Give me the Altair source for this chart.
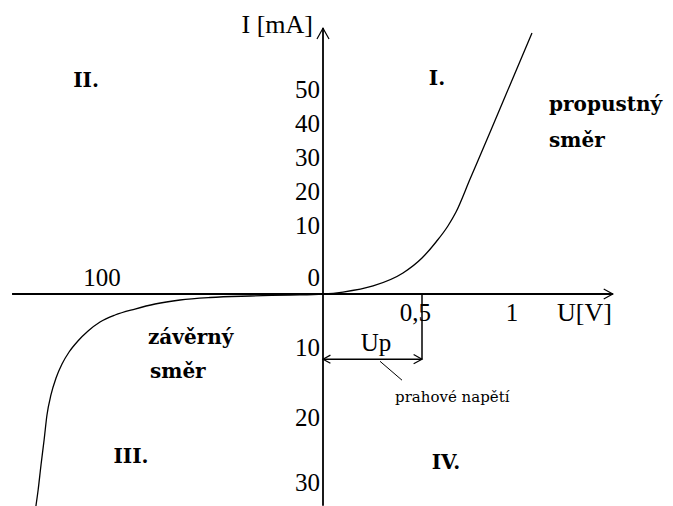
import altair as alt
import pandas as pd

# Diode V-A characteristic: forward branch (U in V, I in mA)
fwd_u = [0, 0.101, 0.253, 0.404, 0.50, 0.578, 0.644, 0.689, 0.767, 0.878, 0.989, 1.111]
fwd_i = [0, 0.29, 1.18, 3.09, 5.29, 7.65, 10.0, 14.1, 23.8, 37.6, 51.5, 66.8]

# reverse branch (U in V, reverse current)
rev_u = [0, -14.9, -33.0, -51.1, -64.7, -76.0, -85.1, -94.1, -100.9, -106.3,
         -110.9, -114.9, -118.1, -120.8, -123.1, -124.9, -126.2, -127.6,
         -128.9, -129.9]
rev_i = [0, -0.19, -0.37, -0.65, -1.11, -1.85, -2.78, -3.89, -5.19, -6.85,
         -8.70, -10.57, -12.29, -14.29, -16.71, -19.57, -23.38, -27.23,
         -31.08, -33.54]

# axis extents
u_min, u_max = -140.7, 1.56
i_min, i_max = -33.5, 68.2

# threshold voltage
u_p = 0.5
i_p = -11.6

# tick labels
i_ticks_up = [10, 20, 30, 40, 50]
i_ticks_down = [-10, -20, -30]
u_ticks = [-100, 0.5, 1]
u_tick_text = ["100", "0,5", "1"]

# piecewise scales (different units on each half-axis)
U_DOMAIN = [-100, 0, 0.5, 1]
U_RANGE = [102, 323, 422, 512]
I_DOMAIN = [-30, -20, -10, 0, 10, 50]
I_RANGE = [483, 418, 348, 294, 226, 90]

xs = alt.Scale(domain=U_DOMAIN, range=U_RANGE, nice=False, zero=False)
ys = alt.Scale(domain=I_DOMAIN, range=I_RANGE, nice=False, zero=False)

SERIF = "Liberation Serif"
SERIF_WIDE = "DejaVu Serif"


def X(field):
    return alt.X(field, type="quantitative", scale=xs, axis=None)


def Y(field):
    return alt.Y(field, type="quantitative", scale=ys, axis=None)


# characteristic curve, ordered by voltage
curve_df = pd.DataFrame({
    "u": rev_u[::-1] + fwd_u[1:],
    "i": rev_i[::-1] + fwd_i[1:],
})
curve_df["k"] = range(len(curve_df))
curve = alt.Chart(curve_df).mark_line(
    color="black", strokeWidth=1.3, interpolate="monotone"
).encode(x=X("u"), y=Y("i"), order=alt.Order("k:Q"))

# axes and the threshold construction
rules_df = pd.DataFrame([
    {"u1": u_min, "u2": u_max, "i1": 0, "i2": 0, "w": 1.8},
    {"u1": 0, "u2": 0, "i1": i_min, "i2": i_max, "w": 1.8},
    {"u1": u_p, "u2": u_p, "i1": 0, "i2": i_p, "w": 1.5},
    {"u1": 0, "u2": u_p, "i1": i_p, "i2": i_p, "w": 1.5},
    {"u1": 0.288, "u2": 0.399, "i1": -11.9, "i2": -14.6, "w": 1.0},
])
rules = alt.Chart(rules_df).mark_rule(color="black").encode(
    x=X("u1"), x2="u2", y=Y("i1"), y2="i2",
    strokeWidth=alt.StrokeWidth("w:Q", scale=None),
)

# open arrow heads
CHEVRON = "M-1,-0.55L0,0L-1,0.55"
heads_df = pd.DataFrame([
    {"u": 0, "i": i_max, "ang": 270, "s": 480},
    {"u": u_max, "i": 0, "ang": 0, "s": 330},
    {"u": 0, "i": i_p, "ang": 180, "s": 220},
    {"u": u_p, "i": i_p, "ang": 0, "s": 280},
])
heads = alt.Chart(heads_df).mark_point(
    shape=CHEVRON, filled=False, color="black", strokeWidth=1.2, opacity=1
).encode(
    x=X("u"), y=Y("i"),
    angle=alt.Angle("ang:Q", scale=None),
    size=alt.Size("s:Q", scale=None),
)


def text_layer(rows, **mark):
    df = pd.DataFrame(rows, columns=["u", "i", "t"])
    base = dict(font=SERIF, color="black", baseline="middle")
    base.update(mark)
    return alt.Chart(df).mark_text(**base).encode(x=X("u"), y=Y("i"), text="t:N")


# tick labels along the current axis
i_labels = text_layer(
    [(0, v, str(abs(v))) for v in i_ticks_up + i_ticks_down],
    align="right", dx=-3, fontSize=25,
)
zero_label = text_layer([(0, 0, "0")], align="right", dx=-3, dy=-16, fontSize=25)

# tick labels along the voltage axis
u_labels_above = text_layer([(u_ticks[0], 0, u_tick_text[0])], align="center",
                            dy=-16, fontSize=25)
u_half = text_layer([(u_ticks[1], 0, u_tick_text[1])], align="right", dx=9,
                    dy=19, fontSize=25)
u_one = text_layer([(u_ticks[2], 0, u_tick_text[2])], align="center", dy=19,
                   fontSize=25)

# axis titles
i_title = text_layer([(0, 69.1, "I [mA]")], align="right", dx=-10, fontSize=26)
u_title = text_layer([(1.25, 0, "U[V]")], align="left", dy=19, fontSize=26)

# quadrant numbers
quadrants = text_layer(
    [(-107.2, 52.7, "II."), (0.583, 53.3, "I."),
     (-86.9, -26.0, "III."), (0.633, -26.9, "IV.")],
    align="center", fontSize=20, fontWeight="bold", font=SERIF_WIDE,
)

# direction descriptions
directions = text_layer(
    [(1.206, 45.6, "propustný"), (1.206, 35.0, "směr"),
     (-79.2, -8.15, "závěrný"), (-78.3, -13.4, "směr")],
    align="left", fontSize=20, fontWeight="bold", font=SERIF_WIDE,
)

up_label = text_layer([(0.268, -9.07, "Up")], align="center", fontSize=25)
thr_label = text_layer([(0.364, -17.0, "prahové napětí")], align="left",
                       fontSize=15, font=SERIF_WIDE)

chart = alt.layer(
    rules, curve, heads,
    i_labels, zero_label, u_labels_above, u_half, u_one,
    i_title, u_title, quadrants, directions, up_label, thr_label,
).properties(
    width=673, height=506,
    autosize=alt.AutoSizeParams(type="none"),
    padding=0,
    background="white",
).configure_view(stroke=None)

chart.save("out.html", embed_options={"renderer": "svg", "actions": False})
